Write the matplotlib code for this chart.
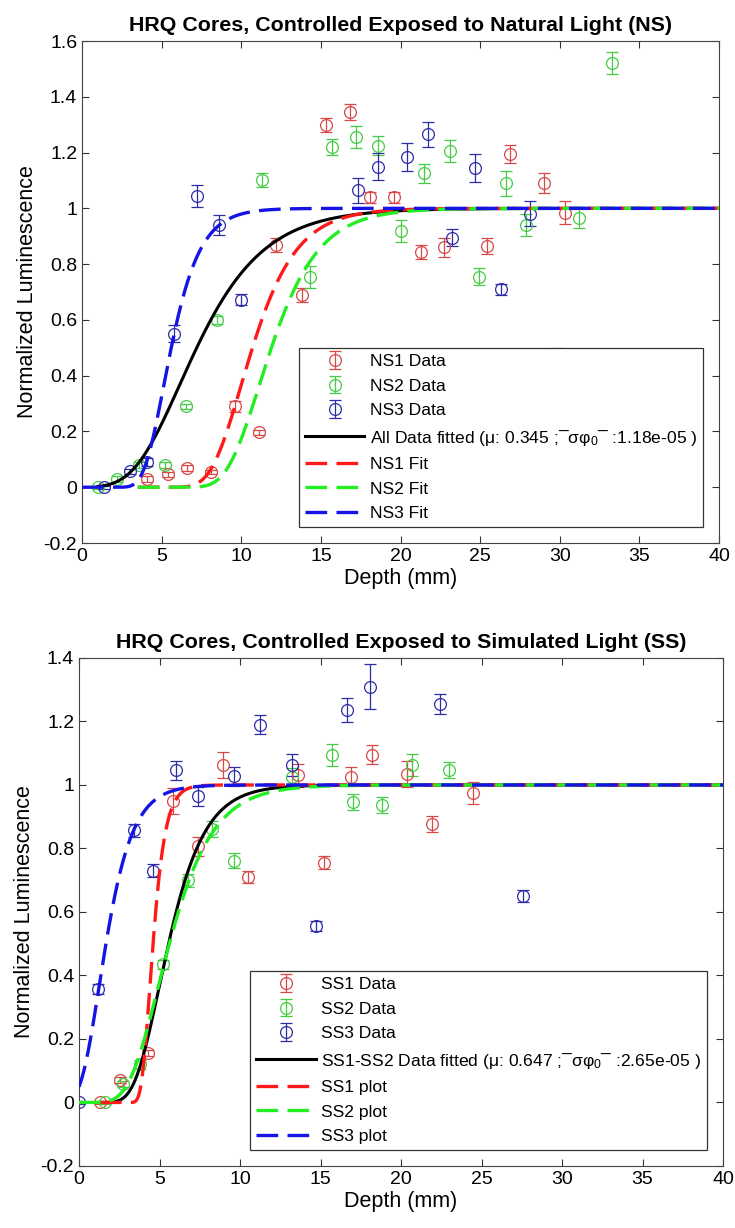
import numpy as np
import matplotlib
matplotlib.use('Agg')
import matplotlib.pyplot as plt
from matplotlib.ticker import FuncFormatter

plt.rcParams['font.family'] = ['Liberation Sans', 'DejaVu Sans']
plt.rcParams['mathtext.fontset'] = 'custom'
plt.rcParams['mathtext.rm'] = 'Liberation Sans'
plt.rcParams['mathtext.it'] = 'Liberation Sans:italic'

# ---- NS cores (natural light) ----
ns1_x = [4.1, 5.4, 6.6, 8.1, 9.6, 11.1, 12.2, 13.8, 15.3, 16.8, 18.1, 19.6, 21.3, 22.7, 25.4, 26.9, 29.0, 30.3]
ns1_y = [0.03, 0.046, 0.07, 0.055, 0.29, 0.197, 0.87, 0.69, 1.30, 1.345, 1.04, 1.04, 0.845, 0.86, 0.865, 1.195, 1.09, 0.985]
ns1_e = [0.01, 0.01, 0.01, 0.008, 0.02, 0.01, 0.025, 0.025, 0.025, 0.03, 0.02, 0.02, 0.025, 0.035, 0.03, 0.032, 0.035, 0.04]

ns2_x = [1.0, 2.2, 3.6, 5.2, 6.5, 8.5, 11.3, 14.3, 15.7, 17.2, 18.6, 20.0, 21.5, 23.1, 24.9, 26.6, 27.9, 29.8, 31.2, 33.3]
ns2_y = [0.0, 0.03, 0.08, 0.08, 0.29, 0.60, 1.10, 0.755, 1.22, 1.255, 1.225, 0.92, 1.125, 1.205, 0.755, 1.09, 0.94, 0.47, 0.965, 1.52]
ns2_e = [0.005, 0.01, 0.01, 0.01, 0.01, 0.015, 0.025, 0.04, 0.03, 0.04, 0.035, 0.04, 0.035, 0.04, 0.03, 0.045, 0.04, 0.03, 0.035, 0.04]

ns3_x = [1.4, 3.0, 4.1, 5.8, 7.2, 8.6, 10.0, 17.3, 18.6, 20.4, 21.7, 23.2, 24.7, 26.3, 28.1]
ns3_y = [0.0, 0.057, 0.09, 0.55, 1.045, 0.94, 0.672, 1.065, 1.15, 1.185, 1.265, 0.895, 1.145, 0.71, 0.98]
ns3_e = [0.005, 0.01, 0.015, 0.03, 0.04, 0.035, 0.02, 0.045, 0.05, 0.05, 0.045, 0.03, 0.05, 0.02, 0.045]

# ---- SS cores (simulated light) ----
ss1_x = [1.3, 2.55, 4.3, 5.85, 7.4, 8.95, 10.5, 13.6, 15.2, 16.9, 18.2, 20.4, 21.9, 24.5]
ss1_y = [0.0, 0.07, 0.155, 0.95, 0.807, 1.063, 0.71, 1.03, 0.755, 1.026, 1.095, 1.035, 0.877, 0.975]
ss1_e = [0.005, 0.01, 0.01, 0.04, 0.03, 0.04, 0.02, 0.035, 0.02, 0.03, 0.03, 0.04, 0.025, 0.035]

ss2_x = [1.6, 2.75, 3.8, 5.2, 6.8, 8.25, 9.6, 13.2, 15.7, 17.0, 18.8, 20.7, 23.0]
ss2_y = [0.0, 0.058, 0.12, 0.435, 0.70, 0.86, 0.762, 1.025, 1.095, 0.947, 0.937, 1.063, 1.047]
ss2_e = [0.005, 0.01, 0.015, 0.015, 0.02, 0.025, 0.025, 0.03, 0.035, 0.025, 0.025, 0.035, 0.025]

ss3_x = [0.0, 1.2, 3.4, 4.6, 6.0, 7.4, 9.6, 11.25, 13.2, 14.7, 16.65, 18.1, 22.4, 27.6]
ss3_y = [0.0, 0.357, 0.857, 0.73, 1.047, 0.965, 1.028, 1.19, 1.063, 0.555, 1.236, 1.31, 1.255, 0.65]
ss3_e = [0.005, 0.015, 0.02, 0.02, 0.03, 0.03, 0.03, 0.03, 0.035, 0.015, 0.037, 0.07, 0.033, 0.02]

# fitted bleaching model parameters: (mu [1/mm], sigma*phi0*t, depth where curve starts)
ns_fit_all = (0.345, 8.31, 1.0)
ns_fits = [(0.525, 191.0, 3.5), (0.49, 235.0, 3.5), (0.80, 61.2, 0.0)]
ss_fit_all = (0.647, 25.3, 1.3)
ss_fits = [(1.90, 4330.0, 1.3), (0.543, 14.6, 0.0), (0.875, 3.0, 0.0)]

mark_cols = ['#d84848', '#44cc44', '#2c2ca8']
fit_cols = ['#ff1a1a', '#22ee22', '#1414e6']


def lum(x, mu, A):
    # L/L0 = exp(-sigma*phi0*t * exp(-mu*x))
    return np.exp(-A * np.exp(-mu * x))


def panel(ax, sets, fit_all, fits, title, names, all_label, fit_names):
    handles = []
    for (x, y, e), c, n in zip(sets, mark_cols, names):
        h = ax.errorbar(x, y, yerr=e, fmt='o', mfc='none', mec=c, ecolor=c,
                        ms=8.5, mew=0.9, elinewidth=0.9, capsize=4.5, capthick=0.9,
                        label=n, zorder=2)
        handles.append(h)
    mu, A, x0 = fit_all
    xs = np.linspace(x0, 40, 800)
    h, = ax.plot(xs, lum(xs, mu, A), '-', color='k', lw=2.2, label=all_label, zorder=3)
    handles.append(h)
    for (mu, A, x0), c, n in zip(fits, fit_cols, fit_names):
        xs = np.linspace(x0, 40, 800)
        h, = ax.plot(xs, lum(xs, mu, A), '--', color=c, lw=2.4, dashes=(6.5, 2.8),
                     label=n, zorder=4)
        handles.append(h)
    ax.set_xlim(0, 40)
    ax.set_xticks(np.arange(0, 41, 5))
    ax.yaxis.set_major_formatter(FuncFormatter(lambda v, p: '%g' % round(v, 2)))
    ax.tick_params(direction='in', top=True, right=True, labelsize=14, length=5,
                   color='#333333')
    for s in ax.spines.values():
        s.set_color('#444444')
    ax.set_xlabel('Depth (mm)', fontsize=15.5, labelpad=2)
    ax.set_ylabel('Normalized Luminescence', fontsize=15.5, labelpad=4)
    ax.set_title(title, fontsize=15.4, fontweight='bold', pad=7)
    leg = ax.legend(handles=handles, loc='lower right', fontsize=12.6,
                    handlelength=3.4, handletextpad=0.3, labelspacing=0.53,
                    borderpad=0.35, borderaxespad=0.9,
                    fancybox=False, edgecolor='#333333', framealpha=1)
    leg.get_frame().set_linewidth(0.9)
    leg.set_zorder(10)


fig = plt.figure(figsize=(7.35, 12.28), dpi=100)

ax1 = fig.add_axes([0.1116, 0.5578, 0.8667, 0.4088])
panel(ax1, [(ns1_x, ns1_y, ns1_e), (ns2_x, ns2_y, ns2_e), (ns3_x, ns3_y, ns3_e)],
      ns_fit_all, ns_fits,
      'HRQ Cores, Controlled Exposed to Natural Light (NS)',
      ['NS1 Data', 'NS2 Data', 'NS3 Data'],
      'All Data fitted (μ: 0.345 ;¯σφ$_0$¯ :1.18e-05 )',
      ['NS1 Fit', 'NS2 Fit', 'NS3 Fit'])
ax1.set_ylim(-0.2, 1.6)
ax1.set_yticks(np.arange(-0.2, 1.61, 0.2))

ax2 = fig.add_axes([0.1075, 0.0505, 0.8762, 0.4137])
panel(ax2, [(ss1_x, ss1_y, ss1_e), (ss2_x, ss2_y, ss2_e), (ss3_x, ss3_y, ss3_e)],
      ss_fit_all, ss_fits,
      'HRQ Cores, Controlled Exposed to Simulated Light (SS)',
      ['SS1 Data', 'SS2 Data', 'SS3 Data'],
      'SS1-SS2 Data fitted (μ: 0.647 ;¯σφ$_0$¯ :2.65e-05 )',
      ['SS1 plot', 'SS2 plot', 'SS3 plot'])
ax2.set_ylim(-0.2, 1.4)
ax2.set_yticks(np.arange(-0.2, 1.41, 0.2))

fig.savefig('out.png', dpi=100)
